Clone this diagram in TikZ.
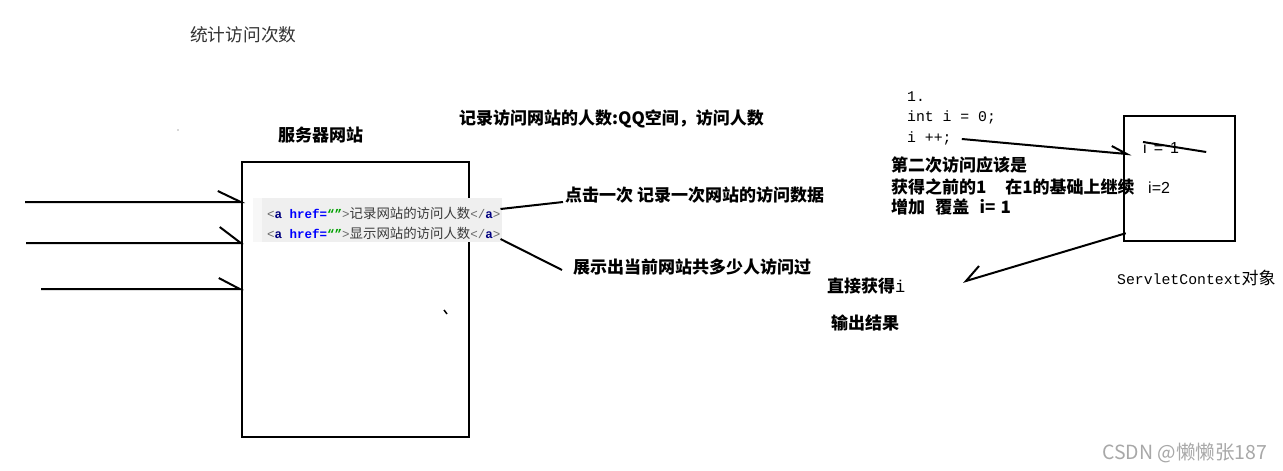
\documentclass[tikz,border=0pt]{standalone}
\usepackage{fontspec}
\setmainfont{Noto Sans CJK SC}
\newfontfamily\codefont{Liberation Mono}
\newfontfamily\arialfont{Liberation Sans}
\definecolor{codegray}{HTML}{6A6A6A}
\definecolor{navyc}{HTML}{000080}
\definecolor{hblue}{HTML}{0000FF}
\definecolor{qgreen}{HTML}{00A000}
\definecolor{txtgray}{HTML}{3A3A3A}
\definecolor{hl}{HTML}{EFEFEF}
\definecolor{titlegray}{HTML}{333333}
\definecolor{wmgray}{HTML}{A8A8A8}
\newcommand\hrefline[1]{{\codefont\fontsize{12.5}{13}\selectfont\color{codegray}<\textbf{\color{navyc}a} \textbf{\color{hblue}href=\color{qgreen}“”}>}{\fontsize{13.4}{13}\selectfont\color{txtgray}#1}{\codefont\fontsize{12.5}{13}\selectfont\color{codegray}</\textbf{\color{navyc}a}>}}
\begin{document}
\begin{tikzpicture}[x=1pt,y=-1pt,
  lbl/.style={font=\fontsize{17}{17}\selectfont\bfseries, inner sep=0, anchor=west},
  codetxt/.style={font=\codefont\fontsize{14.8}{15}\selectfont, inner sep=0, anchor=west},
  wire/.style={line width=2pt, black},
  frame/.style={draw, line width=2.5pt, inner sep=0}]
\useasboundingbox (0,0) rectangle (1283,471);
\fill[white] (0,0) rectangle (1283,471);

% titles
\node[inner sep=0, anchor=west, font=\fontsize{17.7}{18}\selectfont, text=titlegray] (title) at (190,35) {统计访问次数};
\node[lbl] (srvlbl) at (278,135) {服务器网站};
\node[lbl] (qq) at (459,119) {记录访问网站的人数:QQ空间，访问人数};

% server box
\node[frame, minimum width=227pt, minimum height=275pt] (server) at (355.5,299.5) {};

% highlight of code
\fill[hl] (262,198) rectangle (502,242);
\fill[hl!50] (253,198) rectangle (262,242);
\node[inner sep=0, anchor=west] (l1) at (267,213) {\hrefline{记录网站的访问人数}};
\node[inner sep=0, anchor=west] (l2) at (267,233) {\hrefline{显示网站的访问人数}};

% incoming requests
\coordinate (s1) at (25,202);
\coordinate (s2) at (26,243);
\coordinate (s3) at (41,289);
\draw[wire] (s1) -- (server.west |- s1) -- ++(-23,-11);
\draw[wire] (s2) -- (server.west |- s2) -- ++(-21,-16);
\draw[wire] (s3) -- ([xshift=-1pt]server.west |- s3) -- ++(-21,-11);

% labels for links
\node[lbl] (click) at (565,195) {点击一次 记录一次网站的访问数据};
\node[lbl] (show) at (573,267) {展示出当前网站共多少人访问过};
\draw[wire] ([yshift=4pt]l1.east) -- ([xshift=-2pt,yshift=-7pt]click.west);
\draw[wire] ([yshift=-6pt]l2.east) -- ([xshift=-11pt,yshift=-3pt]show.west);

% code on the right
\node[codetxt] (c1) at (907,97) {1.};
\node[codetxt] (c2) at (907,117) {int i = 0;};
\node[codetxt] (c3) at (907,138) {i ++;};
\node[lbl] (t1) at (891,165) {第二次访问应该是};
\node[lbl] (t2) at (891,187) {获得之前的1\hspace{1.1em}在1的基础上继续};
\node[lbl] (t3) at (891,207) {增加\hspace{0.6em}覆盖\hspace{0.6em}i=\hspace{0.3em}1};

% ServletContext box
\node[frame, minimum width=111pt, minimum height=125pt] (ctx) at (1179.5,178.5) {};
\node[inner sep=0, anchor=west, font=\arialfont\fontsize{16}{16}\selectfont] (iold) at (1143,148) {i\hspace{7pt}=\hspace{7pt}1};
\draw[line width=2pt] ([yshift=6pt]iold.west) -- ([xshift=27pt,yshift=-4pt]iold.east);
\node[inner sep=0, anchor=west, font=\arialfont\fontsize{16}{16}\selectfont] (inew) at (1148,188) {i=2};
\node[inner sep=0, anchor=west] (ctxlbl) at (1117,278) {{\codefont\fontsize{14.8}{15}\selectfont ServletContext}{\fontsize{17}{17}\selectfont 对象}};

% arrow from i++ into the box
\draw[wire] ([xshift=10pt,yshift=-1pt]c3.east) -- ([xshift=4pt,yshift=24.5pt]ctx.west) coordinate (tipA) -- ++(-15,-8);

% arrow from the box back
\coordinate (tipB) at (966,281);
\draw[wire] ([shift={(3pt,9pt)}]ctx.south west) -- (tipB) -- ++(13,-15);

\node[lbl] (get) at (827,286) {直接获得{\mdseries\codefont i}};
\node[lbl] (out) at (831,323) {输出结果};

% stray marks
\fill[gray!60] (178,130) circle (0.8);
\draw[line width=1.5pt] (444,310) -- (447,314);

% watermark
\node[inner sep=0, anchor=west, font=\fontsize{19.5}{20}\selectfont, text=wmgray] (wm) at (1102,453) {CSDN @懒懒张187};
\end{tikzpicture}
\end{document}
